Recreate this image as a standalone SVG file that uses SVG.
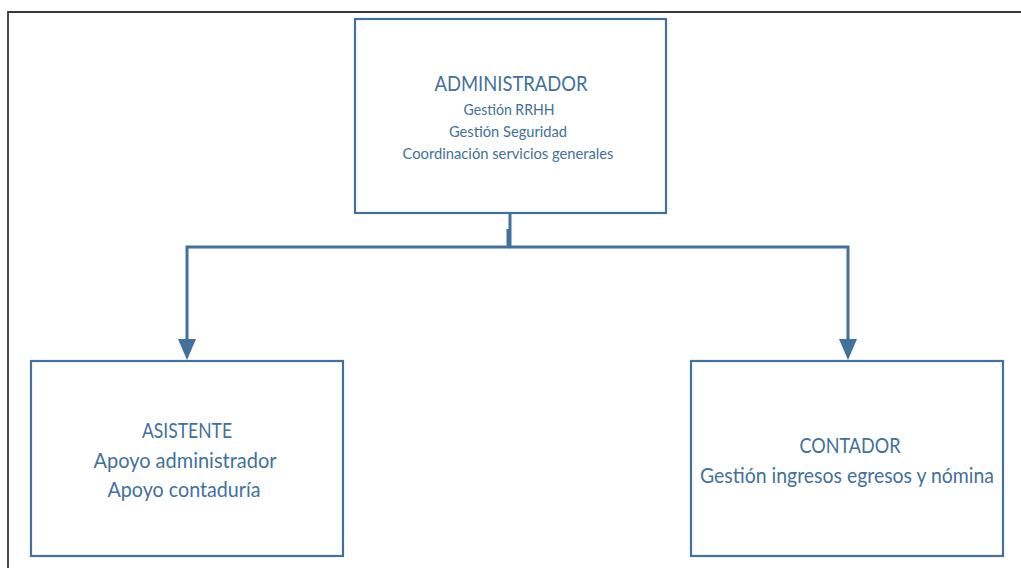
<svg xmlns="http://www.w3.org/2000/svg" width="1021" height="568" viewBox="0 0 1021 568">
  <defs>
    <style>
      .box { fill: #ffffff; stroke: #41719C; stroke-width: 2.2; }
      .wire { fill: none; stroke: #41719C; stroke-width: 3; }
      .title { font-family: Lato, "Liberation Sans", sans-serif; font-size: 22px; fill: #41719C; text-anchor: middle; }
      .small { font-family: Lato, "Liberation Sans", sans-serif; font-size: 15px; fill: #41719C; text-anchor: middle; }
      .frame { fill: none; stroke: #3a3a3a; stroke-width: 1.8; }
    </style>
  </defs>

  <rect width="1021" height="568" fill="#ffffff"/>

  <!-- page frame -->
  <path class="frame" d="M8,568 V12 H1021"/>

  <!-- connectors -->
  <g id="connectors">
    <path class="wire" d="M508,229 V247 H187 V339"/>
    <path class="wire" d="M510,213 V247 H848 V339"/>
    <path d="M178,339 L196,339 L187,360 Z" fill="#41719C"/>
    <path d="M839,339 L857,339 L848,360 Z" fill="#41719C"/>
  </g>

  <g id="administrador">
    <rect class="box" x="355" y="19" width="311" height="194"/>
    <text class="title" x="511" y="91" textLength="153" lengthAdjust="spacingAndGlyphs">ADMINISTRADOR</text>
    <text class="small" x="509" y="115" textLength="91" lengthAdjust="spacingAndGlyphs">Gestión RRHH</text>
    <text class="small" x="508" y="137" textLength="118" lengthAdjust="spacingAndGlyphs">Gestión Seguridad</text>
    <text class="small" x="508" y="159" textLength="211" lengthAdjust="spacingAndGlyphs">Coordinación servicios generales</text>
  </g>

  <g id="asistente">
    <rect class="box" x="31" y="361" width="312" height="195"/>
    <text class="title" x="187" y="438" textLength="90" lengthAdjust="spacingAndGlyphs">ASISTENTE</text>
    <text class="title" x="185" y="468" textLength="183" lengthAdjust="spacingAndGlyphs">Apoyo administrador</text>
    <text class="title" x="184" y="497" textLength="153" lengthAdjust="spacingAndGlyphs">Apoyo contaduría</text>
  </g>

  <g id="contador">
    <rect class="box" x="691" y="361" width="312" height="195"/>
    <text class="title" x="850" y="453" textLength="101" lengthAdjust="spacingAndGlyphs">CONTADOR</text>
    <text class="title" x="847" y="483" style="font-size:20.5px" textLength="294" lengthAdjust="spacingAndGlyphs">Gestión ingresos egresos y nómina</text>
  </g>
</svg>
